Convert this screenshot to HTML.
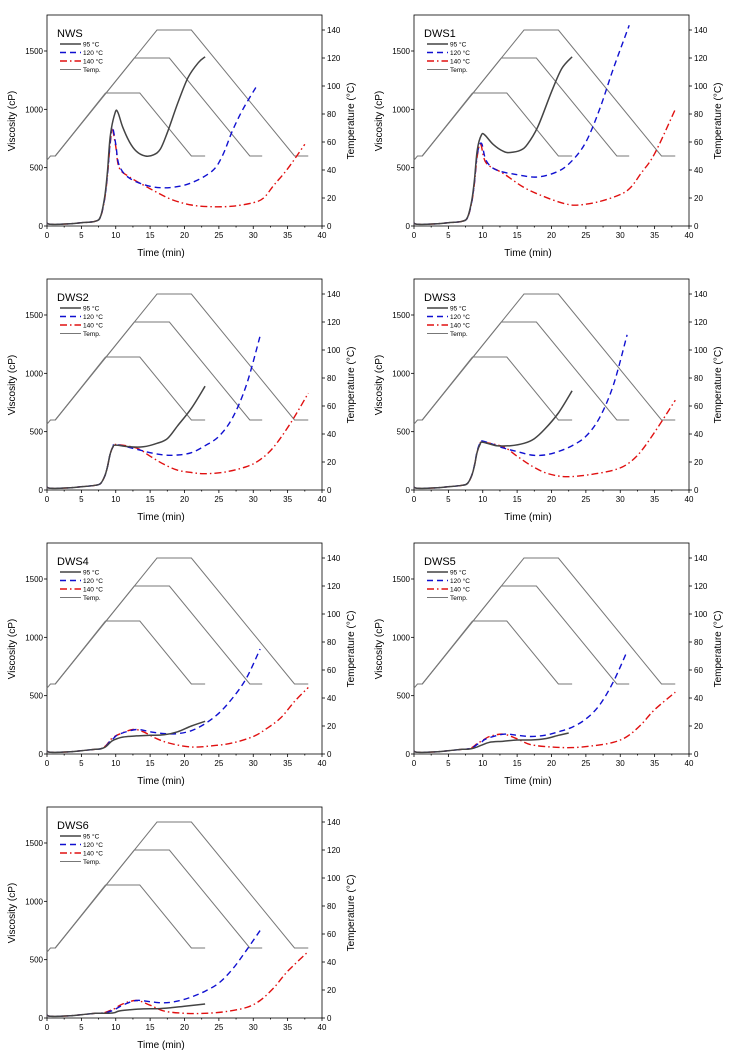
<!DOCTYPE html>
<html><head><meta charset="utf-8"><style>
body{margin:0;background:#fff;}
svg{display:block;font-family:"Liberation Sans",sans-serif;}
</style></head><body>
<svg id="s" width="731" height="1058" xmlns="http://www.w3.org/2000/svg"></svg>
<script>
const S=document.getElementById('s');
let h='';
function spline(pts){let d='M'+pts[0][0].toFixed(1)+','+pts[0][1].toFixed(1);
for(let i=0;i<pts.length-1;i++){const p0=pts[i-1]||pts[i],p1=pts[i],p2=pts[i+1],p3=pts[i+2]||p2;
const c1=[p1[0]+(p2[0]-p0[0])/6,p1[1]+(p2[1]-p0[1])/6],c2=[p2[0]-(p3[0]-p1[0])/6,p2[1]-(p3[1]-p1[1])/6];
d+='C'+c1[0].toFixed(1)+','+c1[1].toFixed(1)+' '+c2[0].toFixed(1)+','+c2[1].toFixed(1)+' '+p2[0].toFixed(1)+','+p2[1].toFixed(1);}
return d;}
const start=[[0,25],[0.5,15],[3,18],[5,28],[7,40]];
function rise(pk){const f=k=>40+(pk-40)*k;return [[7.8,f(0.05)],[8.4,f(0.25)],[8.8,f(0.5)],[9.2,f(0.85)]];}
const P=[
{t:'NWS',a:[[9.9,970],[10.3,975],[11,850],[12,720],[13,640],[14.3,600],[15.5,610],[16.5,660],[17.5,800],[19,1050],[20.5,1270],[22,1400],[23,1450]],
b:[[9.5,850],[10,700],[10.5,520],[12,410],[15,340],[18,330],[21,370],[24,470],[25.5,600],[27,820],[28.5,1000],[30.5,1200]],
c:[[9.5,830],[10,680],[10.5,500],[12,420],[15,320],[18,230],[21,180],[24,165],[27,170],[30,200],[31.5,240],[33,350],[35,490],[37.5,700]],pk:[900,850,830]},
{t:'DWS1',a:[[9.8,780],[10.3,780],[11.5,700],[13,640],[14,630],[15.5,650],[16.5,700],[18,850],[20,1150],[21.5,1350],[23,1450]],
b:[[9.8,710],[10.5,560],[12,480],[15,440],[18,420],[21,470],[23,560],[25,720],[27,1000],[29,1350],[31.3,1720]],
c:[[9.7,700],[10.5,540],[13,450],[16,330],[19,250],[22,190],[24,180],[27,210],[30,270],[31.5,330],[33,450],[35,620],[38,1000]],pk:[760,720,700]},
{t:'DWS2',a:[[9.6,370],[10,385],[12,370],[14,370],[16,400],[17.5,440],[19,550],[21,700],[23,890]],
b:[[9.6,370],[10,390],[13,350],[15,320],[17,300],[19,300],[21,320],[23,380],[25,460],[27,620],[29,900],[31,1320]],
c:[[9.6,370],[10,390],[13,360],[15,290],[17,220],[19,170],[21,150],[23,140],[26,155],[29,200],[31,260],[33,370],[35.5,580],[38,830]],pk:[360,360,360]},
{t:'DWS3',a:[[9.6,390],[10,410],[12,380],[14,380],[16,400],[17.5,440],[19,520],[21,660],[23,850]],
b:[[9.6,400],[10,420],[13,360],[15,330],[17,300],[19,300],[21,330],[23,380],[25,460],[27,620],[29,900],[31,1330]],
c:[[9.6,390],[10,410],[13,370],[15,290],[17,210],[19,150],[21,120],[23,115],[26,135],[29,170],[31,220],[33,330],[35.5,540],[38,770]],pk:[380,390,380]},
{t:'DWS4',a:[[9.7,120],[11,145],[13,155],[15,160],[17,165],[19,190],[21,240],[23,280]],
b:[[9.7,135],[10.5,170],[13,210],[15,190],[17,175],[19,175],[21,200],[23,260],[25,350],[27,480],[29,650],[31,900]],
c:[[9.7,145],[10.5,170],[12.5,210],[14,190],[16,130],[18,90],[21,60],[24,70],[27,95],[30,150],[32,220],[34,310],[36,450],[38,570]],pk:[110,125,135]},
{t:'DWS5',a:[[9.8,75],[11,100],[13,110],[15,120],[17,120],[19,130],[21,160],[22.5,180]],
b:[[9.8,100],[10.5,130],[13,170],[15,160],[17,150],[19,160],[21,190],[23,230],[25,300],[27,420],[29,620],[31,880]],
c:[[9.8,110],[11,150],[13,170],[15,130],[17,80],[20,60],[23,55],[26,70],[29,100],[31,150],[33,250],[35,380],[38,530]],pk:[65,90,100]},
{t:'DWS6',a:[[9.8,45],[10.5,60],[12,70],[14,78],[16,80],[18,88],[20,100],[23,120]],
b:[[9.8,70],[11,110],[13,150],[15,140],[17,130],[19,145],[21,180],[23,230],[25,300],[27,420],[29,580],[31,750]],
c:[[9.8,80],[11,120],[13,150],[15,110],[17,60],[20,40],[23,40],[26,55],[29,90],[31,150],[33,260],[35,400],[38,570]],pk:[42,60,70]}
];
const temps=[[[0,47],[0.5,50],[1.2,50],[8.5,95],[13.5,95],[21,50],[23,50]],
[[1.2,50],[12.7,120],[17.8,120],[29.5,50],[31.3,50]],
[[1.2,50],[16,140],[21,140],[36,50],[38,50]]];
P.forEach((p,i)=>{
 const ox=47+(i%2)*367, by=226+Math.floor(i/2)*264, top=by-211, rx=ox+275;
 const X=t=>ox+t*6.875, Y=v=>by-v*0.11667, T=c=>by-c*1.4;
 h+=`<g stroke="#000" stroke-width="0.8" fill="none"><rect x="${ox}" y="${top}" width="275" height="211"/>`;
 for(let t=0;t<=40;t+=5)h+=`<line x1="${X(t)}" y1="${by}" x2="${X(t)}" y2="${by+3}"/>`;
 for(let t=2.5;t<40;t+=5)h+=`<line x1="${X(t)}" y1="${by}" x2="${X(t)}" y2="${by+1.5}"/>`;
 for(let v=0;v<=1500;v+=500)h+=`<line x1="${ox}" y1="${Y(v)}" x2="${ox-3}" y2="${Y(v)}"/>`;
 for(let c=0;c<=140;c+=20)h+=`<line x1="${rx}" y1="${T(c)}" x2="${rx+3}" y2="${T(c)}"/>`;
 h+='</g><g font-size="8" fill="#000">';
 for(let t=0;t<=40;t+=5)h+=`<text x="${X(t)}" y="${by+12}" text-anchor="middle">${t}</text>`;
 for(let v=0;v<=1500;v+=500)h+=`<text x="${ox-4}" y="${Y(v)+3}" text-anchor="end">${v}</text>`;
 for(let c=0;c<=140;c+=20)h+=`<text x="${rx+5}" y="${T(c)+3}">${c}</text>`;
 h+=`</g><text x="${ox+114}" y="${by+30}" font-size="10" text-anchor="middle">Time (min)</text>`;
 h+=`<text transform="translate(${ox-32},${by-105}) rotate(-90)" font-size="10" text-anchor="middle">Viscosity (cP)</text>`;
 h+=`<text transform="translate(${rx+32},${by-105}) rotate(-90)" font-size="10" text-anchor="middle">Temperature (°C)</text>`;
 h+=`<text x="${ox+10}" y="${top+22}" font-size="11">${p.t}</text>`;
 temps.forEach(tp=>{h+=`<polyline fill="none" stroke="#777" stroke-width="1" points="${tp.map(q=>X(q[0])+','+T(q[1])).join(' ')}"/>`;});
 const mk=(pts,pk)=>spline(start.concat(rise(pk),pts).map(q=>[X(q[0]),Y(q[1])]));
 h+=`<path d="${mk(p.c,p.pk[2])}" fill="none" stroke="#e01010" stroke-width="1.4" stroke-dasharray="7,3,1.5,3"/>`;
 h+=`<path d="${mk(p.b,p.pk[1])}" fill="none" stroke="#1010d0" stroke-width="1.4" stroke-dasharray="6,4"/>`;
 h+=`<path d="${mk(p.a,p.pk[0])}" fill="none" stroke="#444" stroke-width="1.5"/>`;
 const L=[['95 °C','#444',''],['120 °C','#1010d0','6,4'],['140 °C','#e01010','7,3,1.5,3'],['Temp.','#777','']];
 L.forEach((l,k)=>{const y=top+29+k*8.5;
  h+=`<line x1="${ox+13}" y1="${y}" x2="${ox+34}" y2="${y}" stroke="${l[1]}" stroke-width="${k==3?1:1.4}" ${l[2]?'stroke-dasharray="'+l[2]+'"':''}/>`;
  h+=`<text x="${ox+36}" y="${y+2.5}" font-size="6.5">${l[0]}</text>`;});
});
S.innerHTML=h;
</script>
</body></html>
